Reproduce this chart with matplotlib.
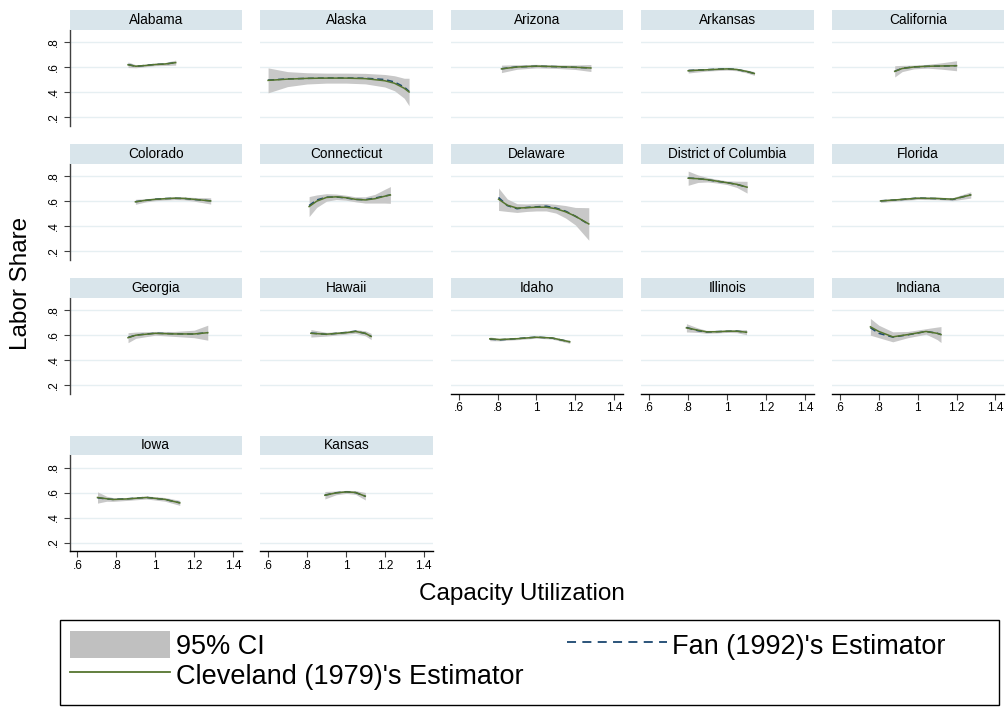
import matplotlib
matplotlib.use("Agg")
import matplotlib.pyplot as plt
from matplotlib.patches import Rectangle, Patch
from matplotlib.lines import Line2D
import numpy as np

plt.rcParams['font.family'] = ['Liberation Sans', 'DejaVu Sans']

states = ["Alabama", "Alaska", "Arizona", "Arkansas", "California",
          "Colorado", "Connecticut", "Delaware", "District of Columbia", "Florida",
          "Georgia", "Hawaii", "Idaho", "Illinois", "Indiana",
          "Iowa", "Kansas"]

# capacity utilization grid per state
cap_util = [
    [0.86, 0.90, 0.95, 1.00, 1.05, 1.105],
    [0.60, 0.70, 0.80, 0.90, 1.00, 1.10, 1.20, 1.25, 1.30, 1.325],
    [0.82, 0.90, 1.00, 1.10, 1.20, 1.28],
    [0.80, 0.90, 1.00, 1.05, 1.10, 1.14],
    [0.882, 0.92, 0.98, 1.05, 1.12, 1.20],
    [0.898, 0.95, 1.00, 1.05, 1.10, 1.15, 1.20, 1.285],
    [0.811, 0.85, 0.90, 0.95, 1.00, 1.05, 1.10, 1.15, 1.20, 1.229],
    [0.805, 0.85, 0.90, 0.95, 1.00, 1.05, 1.10, 1.15, 1.20, 1.269],
    [0.80, 0.85, 0.90, 0.95, 1.00, 1.05, 1.103],
    [0.809, 0.90, 1.00, 1.10, 1.18, 1.273],
    [0.86, 0.90, 1.00, 1.10, 1.20, 1.27],
    [0.82, 0.90, 1.00, 1.05, 1.10, 1.13],
    [0.76, 0.81, 0.90, 1.00, 1.08, 1.171],
    [0.791, 0.85, 0.894, 0.95, 1.00, 1.05, 1.10],
    [0.757, 0.80, 0.872, 0.95, 1.043, 1.10, 1.12],
    [0.703, 0.75, 0.783, 0.85, 0.955, 1.05, 1.126],
    [0.892, 0.95, 1.003, 1.05, 1.10],
]

# Cleveland (1979) lowess fit
cleveland = [
    [0.618, 0.606, 0.612, 0.620, 0.624, 0.635],
    [0.493, 0.503, 0.509, 0.511, 0.511, 0.507, 0.490, 0.470, 0.430, 0.400],
    [0.585, 0.600, 0.607, 0.603, 0.598, 0.592],
    [0.570, 0.578, 0.585, 0.580, 0.565, 0.548],
    [0.565, 0.588, 0.600, 0.606, 0.608, 0.610],
    [0.595, 0.607, 0.615, 0.620, 0.624, 0.622, 0.615, 0.602],
    [0.557, 0.600, 0.630, 0.635, 0.628, 0.615, 0.610, 0.620, 0.640, 0.650],
    [0.616, 0.568, 0.545, 0.548, 0.552, 0.552, 0.540, 0.515, 0.480, 0.418],
    [0.784, 0.780, 0.772, 0.760, 0.748, 0.735, 0.712],
    [0.602, 0.612, 0.624, 0.622, 0.616, 0.650],
    [0.580, 0.600, 0.615, 0.610, 0.610, 0.620],
    [0.615, 0.608, 0.620, 0.630, 0.615, 0.590],
    [0.571, 0.565, 0.572, 0.584, 0.578, 0.547],
    [0.659, 0.640, 0.627, 0.628, 0.632, 0.632, 0.624],
    [0.667, 0.630, 0.587, 0.605, 0.630, 0.615, 0.605],
    [0.560, 0.550, 0.544, 0.548, 0.560, 0.545, 0.517],
    [0.578, 0.597, 0.605, 0.600, 0.570],
]

# Fan (1992) local linear fit
fan = [
    [0.620, 0.605, 0.613, 0.621, 0.623, 0.636],
    [0.495, 0.505, 0.509, 0.512, 0.512, 0.510, 0.500, 0.480, 0.440, 0.405],
    [0.586, 0.601, 0.606, 0.603, 0.597, 0.593],
    [0.571, 0.579, 0.586, 0.580, 0.564, 0.549],
    [0.566, 0.589, 0.601, 0.605, 0.607, 0.611],
    [0.596, 0.606, 0.616, 0.621, 0.623, 0.622, 0.614, 0.603],
    [0.565, 0.610, 0.632, 0.634, 0.626, 0.614, 0.612, 0.625, 0.642, 0.650],
    [0.630, 0.565, 0.540, 0.550, 0.555, 0.560, 0.545, 0.520, 0.480, 0.415],
    [0.785, 0.781, 0.771, 0.759, 0.749, 0.734, 0.713],
    [0.603, 0.611, 0.625, 0.621, 0.614, 0.651],
    [0.582, 0.601, 0.616, 0.611, 0.609, 0.621],
    [0.617, 0.607, 0.622, 0.632, 0.614, 0.591],
    [0.569, 0.563, 0.573, 0.585, 0.577, 0.548],
    [0.662, 0.636, 0.626, 0.629, 0.631, 0.633, 0.623],
    [0.660, 0.615, 0.585, 0.603, 0.630, 0.616, 0.605],
    [0.558, 0.548, 0.545, 0.549, 0.561, 0.544, 0.518],
    [0.579, 0.598, 0.606, 0.599, 0.571],
]

# half width of the 95% confidence band
ci_half = [
    [0.022, 0.012, 0.010, 0.010, 0.012, 0.020],
    [0.100, 0.060, 0.045, 0.040, 0.040, 0.042, 0.050, 0.060, 0.080, 0.110],
    [0.030, 0.018, 0.014, 0.014, 0.018, 0.028],
    [0.018, 0.010, 0.010, 0.010, 0.012, 0.015],
    [0.045, 0.025, 0.015, 0.015, 0.025, 0.040],
    [0.020, 0.013, 0.011, 0.011, 0.012, 0.012, 0.015, 0.025],
    [0.080, 0.050, 0.030, 0.022, 0.020, 0.020, 0.025, 0.035, 0.055, 0.067],
    [0.090, 0.050, 0.035, 0.030, 0.030, 0.030, 0.035, 0.050, 0.070, 0.130],
    [0.057, 0.030, 0.018, 0.015, 0.015, 0.025, 0.047],
    [0.012, 0.010, 0.010, 0.010, 0.012, 0.025],
    [0.040, 0.025, 0.015, 0.020, 0.030, 0.060],
    [0.030, 0.015, 0.012, 0.015, 0.020, 0.025],
    [0.015, 0.010, 0.008, 0.008, 0.009, 0.012],
    [0.033, 0.018, 0.012, 0.010, 0.010, 0.012, 0.020],
    [0.067, 0.050, 0.040, 0.025, 0.022, 0.050, 0.064],
    [0.045, 0.020, 0.015, 0.012, 0.012, 0.015, 0.020],
    [0.030, 0.015, 0.012, 0.015, 0.030],
]

x_ticks = [0.6, 0.8, 1.0, 1.2, 1.4]
x_ticklabels = [".6", ".8", "1", "1.2", "1.4"]
y_ticks = [0.2, 0.4, 0.6, 0.8]
y_ticklabels = [".2", ".4", ".6", ".8"]

W, H = 1008, 708
fig = plt.figure(figsize=(W / 100, H / 100), dpi=100)

col_left = [69.5, 260.1, 450.7, 641.3, 831.9]
col_w = 172.5
row_top = [29.5, 163.7, 297.7, 455.0]   # top of plot area (px)
plot_h = 96.25
head_h = 19.5

band_col = "#c8c8c8"
fan_col = "#1a476f"
cle_col = "#55752f"
strip_col = "#d9e5eb"
grid_col = "#e6eff2"

n = len(states)
for i, name in enumerate(states):
    r, c = divmod(i, 5)
    left = col_left[c]
    top = row_top[r]
    ax = fig.add_axes([left / W, 1 - (top + plot_h) / H, col_w / W, plot_h / H])
    hx = fig.add_axes([left / W, 1 - top / H, col_w / W, head_h / H])
    hx.set_facecolor(strip_col)
    hx.set_xticks([])
    hx.set_yticks([])
    for s in hx.spines.values():
        s.set_visible(False)
    hx.text(0.5, 0.5, name, ha="center", va="center", fontsize=9.8,
            transform=hx.transAxes)

    x = np.array(cap_util[i])
    y = np.array(cleveland[i])
    h = np.array(ci_half[i])
    ax.fill_between(x, y - h, y + h, color=band_col, lw=0, zorder=2)
    ax.plot(x, fan[i], color=fan_col, lw=1.1, ls=(0, (4, 2.5)), zorder=3)
    ax.plot(x, y, color=cle_col, lw=1.1, zorder=4)

    ax.set_xlim(0.559, 1.446)
    ax.set_ylim(0.13, 0.90)
    for yt in y_ticks:
        ax.axhline(yt, color=grid_col, lw=1.0, zorder=1)

    for s in ["top", "right"]:
        ax.spines[s].set_visible(False)

    # y axis only on the first column
    if c == 0:
        ax.spines["left"].set_color("#404040")
        ax.spines["left"].set_linewidth(1.0)
        ax.set_yticks(y_ticks)
        ax.set_yticklabels(y_ticklabels, rotation=90, va="center", fontsize=8.5)
        ax.tick_params(axis="y", length=4, width=0.8, color="#404040", pad=3)
    else:
        ax.spines["left"].set_visible(False)
        ax.set_yticks([])

    # x axis only on the bottom panel of each column
    below = i + 5
    if below >= n:
        ax.spines["bottom"].set_color("black")
        ax.spines["bottom"].set_linewidth(1.0)
        ax.set_xticks(x_ticks)
        ax.set_xticklabels(x_ticklabels, fontsize=8.5)
        ax.tick_params(axis="x", length=4, width=0.8, color="#404040", pad=2)
    else:
        ax.spines["bottom"].set_visible(False)
        ax.set_xticks([])

fig.text(20.7 / W, 1 - 283 / H, "Labor Share", rotation=90, ha="center",
         va="center", fontsize=17.5)
fig.text(522 / W, 1 - 594 / H, "Capacity Utilization", ha="center",
         va="center", fontsize=17.5)

# legend box
box = Rectangle((60 / W, 1 - 705 / H), 939 / W, 85 / H, transform=fig.transFigure,
                facecolor="white", edgecolor="black", lw=1.0)
fig.patches.append(box)

handles = [Patch(facecolor="#c0c0c0", edgecolor="none"),
           Line2D([], [], color=cle_col, lw=1.3),
           Line2D([], [], color=fan_col, lw=1.3, ls=(0, (5, 3.5)))]
labels = ["95% CI", "Cleveland (1979)'s Estimator", "Fan (1992)'s Estimator"]
fig.legend(handles, labels, ncol=2, loc="upper left",
           bbox_to_anchor=(70 / W, 1 - 631 / H), frameon=False, fontsize=19.5,
           handlelength=3.7, handleheight=1.15, handletextpad=0.2,
           columnspacing=1.6, labelspacing=0.05, borderpad=0, borderaxespad=0)

fig.savefig("out.png", dpi=100)
